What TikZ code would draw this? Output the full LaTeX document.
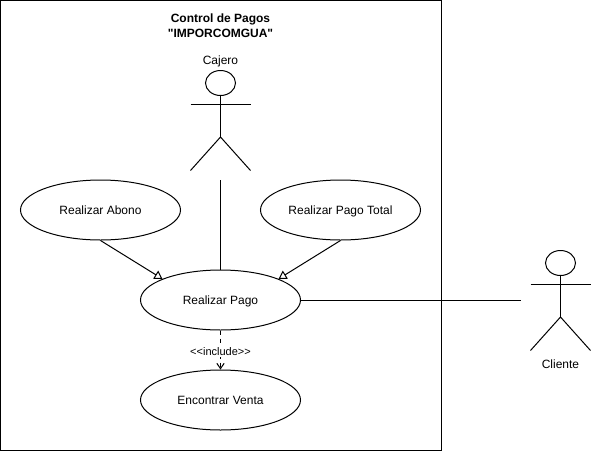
\documentclass[tikz,border=0pt]{standalone}
\usepackage{fontspec}
\setmainfont{Liberation Sans}
\newfontfamily\titlefont{Liberation Sans}
\usetikzlibrary{arrows.meta, shapes.geometric}
\tikzset{
    usecase/.style={draw, ellipse, minimum width=120pt, minimum height=45pt, inner sep=0pt, text height=6.5pt, text depth=0.4pt, font=\fontsize{9}{10.5}\selectfont},
    actorlabel/.style={font=\fontsize{9}{10.5}\selectfont},
    includelabel/.style={fill=white, inner sep=1pt, font=\fontsize{8.25}{10}\selectfont},
    stickman/.pic={
        \draw (0,-12) ellipse (15 and 12.5);
        \draw (0,0) -- (0,42);
        \draw (-30,9) -- (30,9);
        \draw (-30,75.5) -- (0,42) -- (30,75.5);
    }
}

\begin{document}
\begin{tikzpicture}[x=0.75pt, y=-0.75pt, line width=0.75pt]
            \useasboundingbox (0,0) rectangle (601,451);
            \draw (0.5,0.5) rectangle (441,450.5);
            \node[font=\titlefont\bfseries\fontsize{9}{11.25}\selectfont, align=center] (title) at (220.5,25.5) {Control de Pagos\\"IMPORCOMGUA"};
            %
            \pic at (220.5,95) {stickman};
            \node[actorlabel] (cajero) at (220.5,61.5) {Cajero};
            \coordinate (cajeroBase) at (220.5,180);
            %
            \pic at (560.5,275) {stickman};
            \node[actorlabel] (cliente) at (560.5,364.5) {Cliente};
            \coordinate (clienteBase) at (521,300);
            %
            \node[usecase] (abono) at (100.5,210) {Realizar Abono};
            \node[usecase] (total) at (340.5,210) {Realizar Pago Total};
            \node[usecase] (pago) at (220.5,300) {Realizar Pago};
            \node[usecase] (venta) at (220.5,400) {Encontrar Venta};
            %
            \draw (cajeroBase) -- (pago);
            \draw (pago) -- (clienteBase);
            \draw[-{Triangle[open, length=6pt, width=7pt]}] (abono.south) -- (pago.160);
            \draw[-{Triangle[open, length=6pt, width=7pt]}] (total.south) -- (pago.20);
            \draw[dashed, -{Straight Barb[length=4pt, width=5.5pt]}] (pago) -- (venta) node[pos=0.5, yshift=-1pt, includelabel] {<{}<include>{}>};
        \end{tikzpicture}
\end{document}
